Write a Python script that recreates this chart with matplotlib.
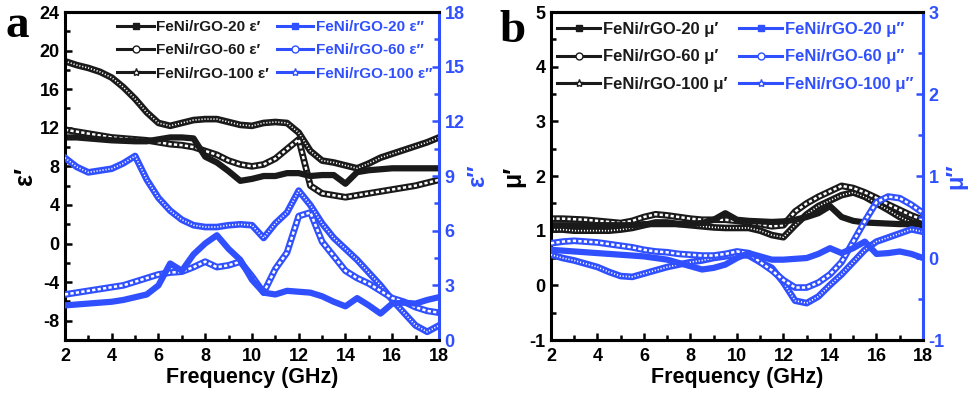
import matplotlib
matplotlib.use("Agg")
import matplotlib.pyplot as plt
from matplotlib.lines import Line2D
from matplotlib.ticker import MultipleLocator

plt.rcParams['font.family'] = ['Liberation Sans', 'DejaVu Sans']
plt.rcParams['font.weight'] = 'bold'
plt.rcParams['axes.unicode_minus'] = False

BLUE = '#3050ff'
DARK = '#1a1a1a'

# frequency axis (GHz), shared by all curves
freq = [2.0, 2.5, 3.0, 3.5, 4.0, 4.5, 5.0, 5.5, 6.0, 6.5, 7.0, 7.5, 8.0, 8.5,
        9.0, 9.5, 10.0, 10.5, 11.0, 11.5, 12.0, 12.5, 13.0, 13.5, 14.0, 14.5,
        15.0, 15.5, 16.0, 16.5, 17.0, 17.5, 18.0]

# panel a: permittivity
eps1_20 = [11.0, 11.0, 10.9, 10.8, 10.7, 10.65, 10.6, 10.6, 10.8, 11.0, 11.0,
           10.9, 9.0, 8.4, 7.5, 6.5, 6.7, 7.0, 7.0, 7.3, 7.3, 7.0, 7.1, 7.1,
           6.2, 7.4, 7.6, 7.7, 7.8, 7.8, 7.8, 7.8, 7.8]
eps1_60 = [11.8, 11.6, 11.4, 11.2, 11.0, 10.9, 10.8, 10.7, 10.5, 10.3, 10.2,
           10.0, 9.6, 9.2, 8.6, 8.2, 8.0, 8.2, 8.8, 9.8, 10.8, 6.0, 5.2, 5.0,
           4.8, 5.0, 5.2, 5.4, 5.6, 5.8, 6.0, 6.3, 6.6]
eps1_100 = [18.9, 18.5, 18.2, 17.8, 17.2, 16.2, 15.0, 13.6, 12.5, 12.2, 12.5,
            12.8, 12.9, 12.9, 12.6, 12.3, 12.2, 12.5, 12.6, 12.5, 11.5, 9.6,
            8.6, 8.4, 8.1, 7.8, 8.3, 8.9, 9.3, 9.7, 10.1, 10.5, 11.0]
eps2_20 = [1.9, 1.95, 2.0, 2.05, 2.1, 2.2, 2.35, 2.5, 3.0, 4.2, 3.8, 4.7, 5.3,
           5.75, 5.0, 4.4, 3.3, 2.6, 2.5, 2.7, 2.65, 2.6, 2.4, 2.1, 1.85, 2.3,
           1.9, 1.45, 2.0, 2.05, 2.0, 2.2, 2.35]
eps2_60 = [2.5, 2.6, 2.7, 2.8, 2.9, 3.0, 3.2, 3.4, 3.6, 3.7, 3.75, 4.0, 4.3,
           4.0, 4.1, 4.3, 3.5, 2.6, 3.9, 4.8, 6.8, 7.0, 5.4, 4.6, 3.8, 3.4,
           3.1, 2.7, 2.3, 2.1, 1.8, 1.6, 1.5]
eps2_100 = [10.0, 9.5, 9.2, 9.3, 9.4, 9.7, 10.1, 8.8, 7.8, 7.1, 6.6, 6.3, 6.2,
            6.2, 6.3, 6.35, 6.3, 5.6, 6.4, 7.0, 8.2, 7.4, 6.4, 5.6, 5.0, 4.4,
            3.7, 3.0, 2.2, 1.5, 0.8, 0.45, 0.8]

# panel b: permeability
mu1_20 = [1.1, 1.1, 1.1, 1.1, 1.1, 1.1, 1.1, 1.1, 1.12, 1.12, 1.12, 1.12,
          1.12, 1.14, 1.2, 1.32, 1.2, 1.18, 1.17, 1.16, 1.17, 1.2, 1.25, 1.32,
          1.45, 1.25, 1.18, 1.15, 1.14, 1.13, 1.12, 1.12, 1.12]
mu1_60 = [1.22, 1.22, 1.21, 1.2, 1.18, 1.16, 1.14, 1.18, 1.25, 1.3, 1.28,
          1.25, 1.22, 1.2, 1.2, 1.2, 1.18, 1.15, 1.12, 1.08, 1.1, 1.35, 1.5,
          1.62, 1.72, 1.82, 1.78, 1.7, 1.6, 1.48, 1.38, 1.28, 1.2]
mu1_100 = [1.02, 1.02, 1.0, 1.0, 1.0, 1.0, 1.02, 1.05, 1.1, 1.15, 1.15, 1.12,
           1.1, 1.08, 1.06, 1.05, 1.05, 1.05, 1.0, 0.92, 0.88, 1.1, 1.3, 1.45,
           1.55, 1.65, 1.7, 1.62, 1.5, 1.38, 1.25, 1.15, 1.1]
mu2_20 = [0.1, 0.09, 0.08, 0.07, 0.06, 0.05, 0.04, 0.03, 0.02, 0.0, -0.02,
          -0.06, -0.1, -0.14, -0.12, -0.08, 0.0, 0.06, 0.02, -0.02, -0.02,
          -0.01, 0.0, 0.05, 0.12, 0.06, 0.12, 0.2, 0.05, 0.06, 0.08, 0.05, 0.0]
mu2_60 = [0.18, 0.2, 0.21, 0.2, 0.19, 0.17, 0.15, 0.13, 0.1, 0.08, 0.07, 0.05,
          0.04, 0.03, 0.03, 0.05, 0.08, 0.06, -0.05, -0.15, -0.27, -0.36,
          -0.36, -0.3, -0.2, -0.05, 0.2, 0.45, 0.68, 0.75, 0.73, 0.65, 0.55]
mu2_100 = [0.04, 0.0, -0.03, -0.07, -0.11, -0.17, -0.22, -0.23, -0.19, -0.15,
           -0.11, -0.08, -0.05, -0.03, 0.0, 0.02, 0.04, 0.03, -0.05, -0.12,
           -0.3, -0.52, -0.55, -0.47, -0.33, -0.2, -0.05, 0.1, 0.2, 0.25, 0.3,
           0.35, 0.32]

samples = ['FeNi/rGO-20', 'FeNi/rGO-60', 'FeNi/rGO-100']


def band(ax, y, color, kind):
    # dense-marker look of the original: thick line plus a white texture
    if kind == 'solid':
        ax.plot(freq, y, color=color, lw=4.5, solid_joinstyle='round')
    elif kind == 'circle':
        ax.plot(freq, y, color=color, lw=4.8, solid_joinstyle='round')
        ax.plot(freq, y, color='white', lw=1.8, dashes=(1.3, 0.9))
    else:
        ax.plot(freq, y, color=color, lw=4.8, solid_joinstyle='round')
        ax.plot(freq, y, color='white', lw=1.2, dashes=(0.7, 1.1))


def style_axes(ax, ax2, ylim, ystep, yminor, y2lim, y2step, y2minor):
    ax.set_xlim(2, 18)
    ax.set_ylim(*ylim)
    ax2.set_ylim(*y2lim)
    ax.xaxis.set_major_locator(MultipleLocator(2))
    ax.xaxis.set_minor_locator(MultipleLocator(1))
    ax.yaxis.set_major_locator(MultipleLocator(ystep))
    ax.yaxis.set_minor_locator(MultipleLocator(yminor))
    ax2.yaxis.set_major_locator(MultipleLocator(y2step))
    ax2.yaxis.set_minor_locator(MultipleLocator(y2minor))
    for a in (ax, ax2):
        for s in a.spines.values():
            s.set_linewidth(2.2)
    ax.spines['right'].set_visible(False)
    ax2.spines['left'].set_visible(False)
    ax2.spines['right'].set_color(BLUE)
    ax.tick_params(which='both', direction='in', width=1.8, labelsize=13,
                   top=False, right=False, pad=4)
    ax.tick_params(axis='x', pad=6)
    ax.tick_params(which='major', length=5)
    ax.tick_params(which='minor', length=3.5)
    ax2.tick_params(which='both', direction='in', width=1.8, labelsize=13,
                    colors=BLUE, pad=4)
    ax2.tick_params(which='major', length=5)
    ax2.tick_params(which='minor', length=3.5)
    for lab in ax.get_xticklabels() + ax.get_yticklabels() + ax2.get_yticklabels():
        lab.set_fontweight('bold')
    ax.set_xlabel('Frequency (GHz)', fontsize=15.5, fontweight='bold', labelpad=1)


def add_legend(ax2, sym1, sym2, anchor, size, hlen, lspace, cspace):
    handles = []
    labels = []
    specs = [('s', True), ('o', False), ('*', False)]
    for color, sym in ((DARK, sym1), (BLUE, sym2)):
        for name, (m, filled) in zip(samples, specs):
            handles.append(Line2D([0], [0], color=color, lw=2.2, marker=m,
                                  ms=5 if m != '*' else 6,
                                  mfc=color if filled else 'white', mec=color,
                                  mew=1))
            labels.append(f'{name} {sym}')
    leg = ax2.legend(handles, labels, ncol=2, loc='upper left',
                     bbox_to_anchor=anchor, frameon=False, fontsize=size,
                     handlelength=hlen, handletextpad=0.15, columnspacing=cspace,
                     labelspacing=lspace, borderaxespad=0, borderpad=0)
    for i, t in enumerate(leg.get_texts()):
        t.set_color(DARK if i < 3 else BLUE)
        t.set_fontweight('bold')


fig = plt.figure(figsize=(9.8, 3.94), dpi=100)

# ---- panel a
ax = fig.add_axes([0.0663, 0.137, 0.3816, 0.8325])
ax2 = ax.twinx()
band(ax, eps1_100, DARK, 'star')
band(ax, eps1_60, DARK, 'circle')
band(ax, eps1_20, DARK, 'solid')
band(ax2, eps2_100, BLUE, 'star')
band(ax2, eps2_60, BLUE, 'circle')
band(ax2, eps2_20, BLUE, 'solid')
style_axes(ax, ax2, (-10, 24), 4, 2, (0, 18), 3, 1.5)
ax.set_ylabel('ε′', fontsize=18, fontweight='bold', labelpad=2)
ax2.set_ylabel('ε″', fontsize=17, fontweight='bold', color=BLUE, labelpad=1)
add_legend(ax2, 'ε′', 'ε″', (0.14, 0.975), 11, 2.4, 0.6, 0.5)

# ---- panel b
bx = fig.add_axes([0.5622, 0.137, 0.3796, 0.8325])
bx2 = bx.twinx()
band(bx, mu1_100, DARK, 'star')
band(bx, mu1_60, DARK, 'circle')
band(bx, mu1_20, DARK, 'solid')
band(bx2, mu2_100, BLUE, 'star')
band(bx2, mu2_60, BLUE, 'circle')
band(bx2, mu2_20, BLUE, 'solid')
style_axes(bx, bx2, (-1, 5), 1, 0.5, (-1, 3), 1, 0.5)
bx.set_ylabel('μ′', fontsize=18, fontweight='bold', labelpad=3)
bx2.set_ylabel('μ″', fontsize=17, fontweight='bold', color=BLUE, labelpad=0)
add_legend(bx2, 'μ′', 'μ″', (0.016, 0.97), 12, 2.6, 0.75, 0.7)

fig.text(0.006, 0.905, 'a', family=['Liberation Serif', 'DejaVu Serif'],
         fontsize=34, fontweight='bold', va='baseline')
fig.text(0.510, 0.893, 'b', family=['Liberation Serif', 'DejaVu Serif'],
         fontsize=34, fontweight='bold', va='baseline')

fig.savefig('out.png', dpi=100)
